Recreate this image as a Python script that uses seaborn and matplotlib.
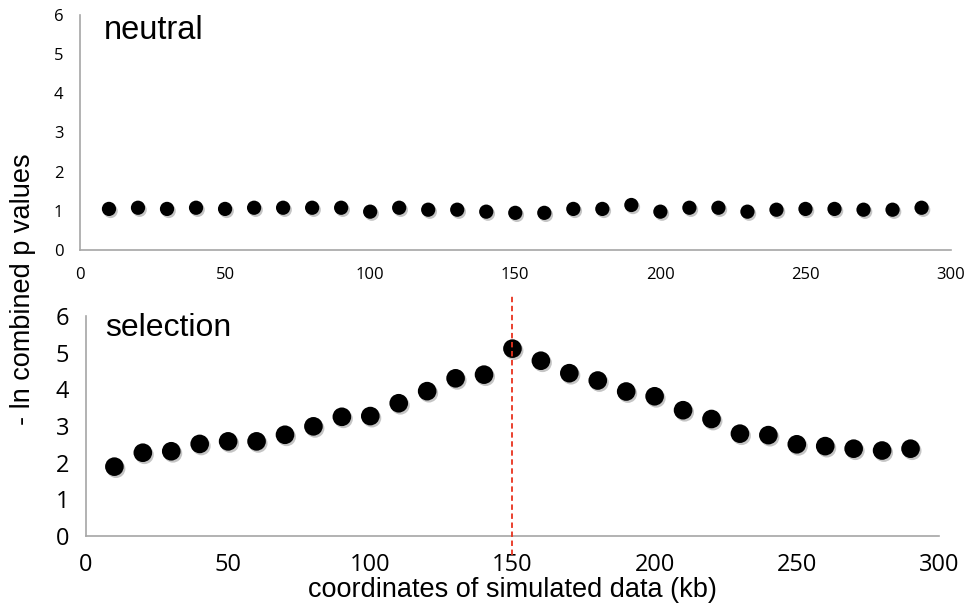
import numpy as np
import pandas as pd
import matplotlib
matplotlib.use("Agg")
import matplotlib.pyplot as plt
import matplotlib.patheffects as pe
import seaborn as sns

# --- data ---
coords = [10, 20, 30, 40, 50, 60, 70, 80, 90, 100, 110, 120, 130, 140, 150,
          160, 170, 180, 190, 200, 210, 220, 230, 240, 250, 260, 270, 280, 290]
neutral = [1.05, 1.08, 1.05, 1.08, 1.05, 1.08, 1.08, 1.08, 1.08, 0.98,
           1.08, 1.03, 1.03, 0.98, 0.95, 0.95, 1.05, 1.05, 1.15, 0.98,
           1.08, 1.08, 0.98, 1.03, 1.05, 1.05, 1.03, 1.03, 1.08]
selection = [1.89, 2.27, 2.31, 2.51, 2.58, 2.58, 2.76, 2.99, 3.25, 3.27,
             3.62, 3.95, 4.30, 4.40, 5.11, 4.78, 4.44, 4.24, 3.94, 3.81,
             3.43, 3.19, 2.79, 2.75, 2.50, 2.45, 2.38, 2.33, 2.38]
sweep_center = 150
x_ticks = [0, 50, 100, 150, 200, 250, 300]
y_ticks = [0, 1, 2, 3, 4, 5, 6]

df = pd.DataFrame({"coord": coords, "neutral": neutral, "selection": selection})

sns.set_style("white")
plt.rcParams["font.family"] = ["Open Sans", "DejaVu Sans"]
plt.rcParams["text.color"] = "black"
plt.rcParams["axes.labelcolor"] = "black"

fig = plt.figure(figsize=(9.68, 6.16), dpi=100)
ax_top = fig.add_axes([0.0826, 0.594, 0.8994, 0.382])
ax_bot = fig.add_axes([0.0888, 0.130, 0.8812, 0.357])

shadow = [pe.SimplePatchShadow(offset=(1.2, -1.5), shadow_rgbFace="0.5", alpha=0.45), pe.Normal()]


def style_axis(ax, label_size):
    ax.set_xlim(0, 300)
    ax.set_ylim(0, 6)
    ax.set_xticks(x_ticks)
    ax.set_yticks(y_ticks)
    for side in ["top", "right"]:
        ax.spines[side].set_visible(False)
    for side in ["left", "bottom"]:
        ax.spines[side].set_color("#a6a6a6")
        ax.spines[side].set_linewidth(1.2)
    ax.tick_params(axis="both", direction="out", length=6, width=1.2,
                   color="#a6a6a6", labelsize=label_size, labelcolor="black", pad=6)
    ax.set_xlabel("")
    ax.set_ylabel("")


# 1. neutral panel
sns.scatterplot(data=df, x="coord", y="neutral", ax=ax_top, s=105, color="black",
                edgecolor="none", clip_on=False)
ax_top.collections[0].set_path_effects(shadow)
style_axis(ax_top, 12)
ax_top.text(0.027, 1.0, "neutral", transform=ax_top.transAxes, fontsize=23.5,
            family="Liberation Sans", va="top", ha="left")

# 2. selection panel
sns.scatterplot(data=df, x="coord", y="selection", ax=ax_bot, s=180, color="black",
                edgecolor="none", clip_on=False)
ax_bot.collections[0].set_path_effects(shadow)
style_axis(ax_bot, 17)
ax_bot.axvline(sweep_center, ymin=-0.086, ymax=1.09, color="#e8321e", lw=1.3,
               ls=(0, (3, 2)), clip_on=False, zorder=5)
ax_bot.text(0.023, 1.015, "selection", transform=ax_bot.transAxes, fontsize=23,
            family="Liberation Sans", va="top", ha="left")
ax_bot.set_xlabel("coordinates of simulated data (kb)", fontsize=19.5,
                  family="Liberation Sans", labelpad=0)

fig.text(0.024, 0.53, "- ln combined p values", rotation=90, fontsize=19.5,
         family="Liberation Sans", ha="center", va="center")

fig.savefig("out.png", dpi=100)
